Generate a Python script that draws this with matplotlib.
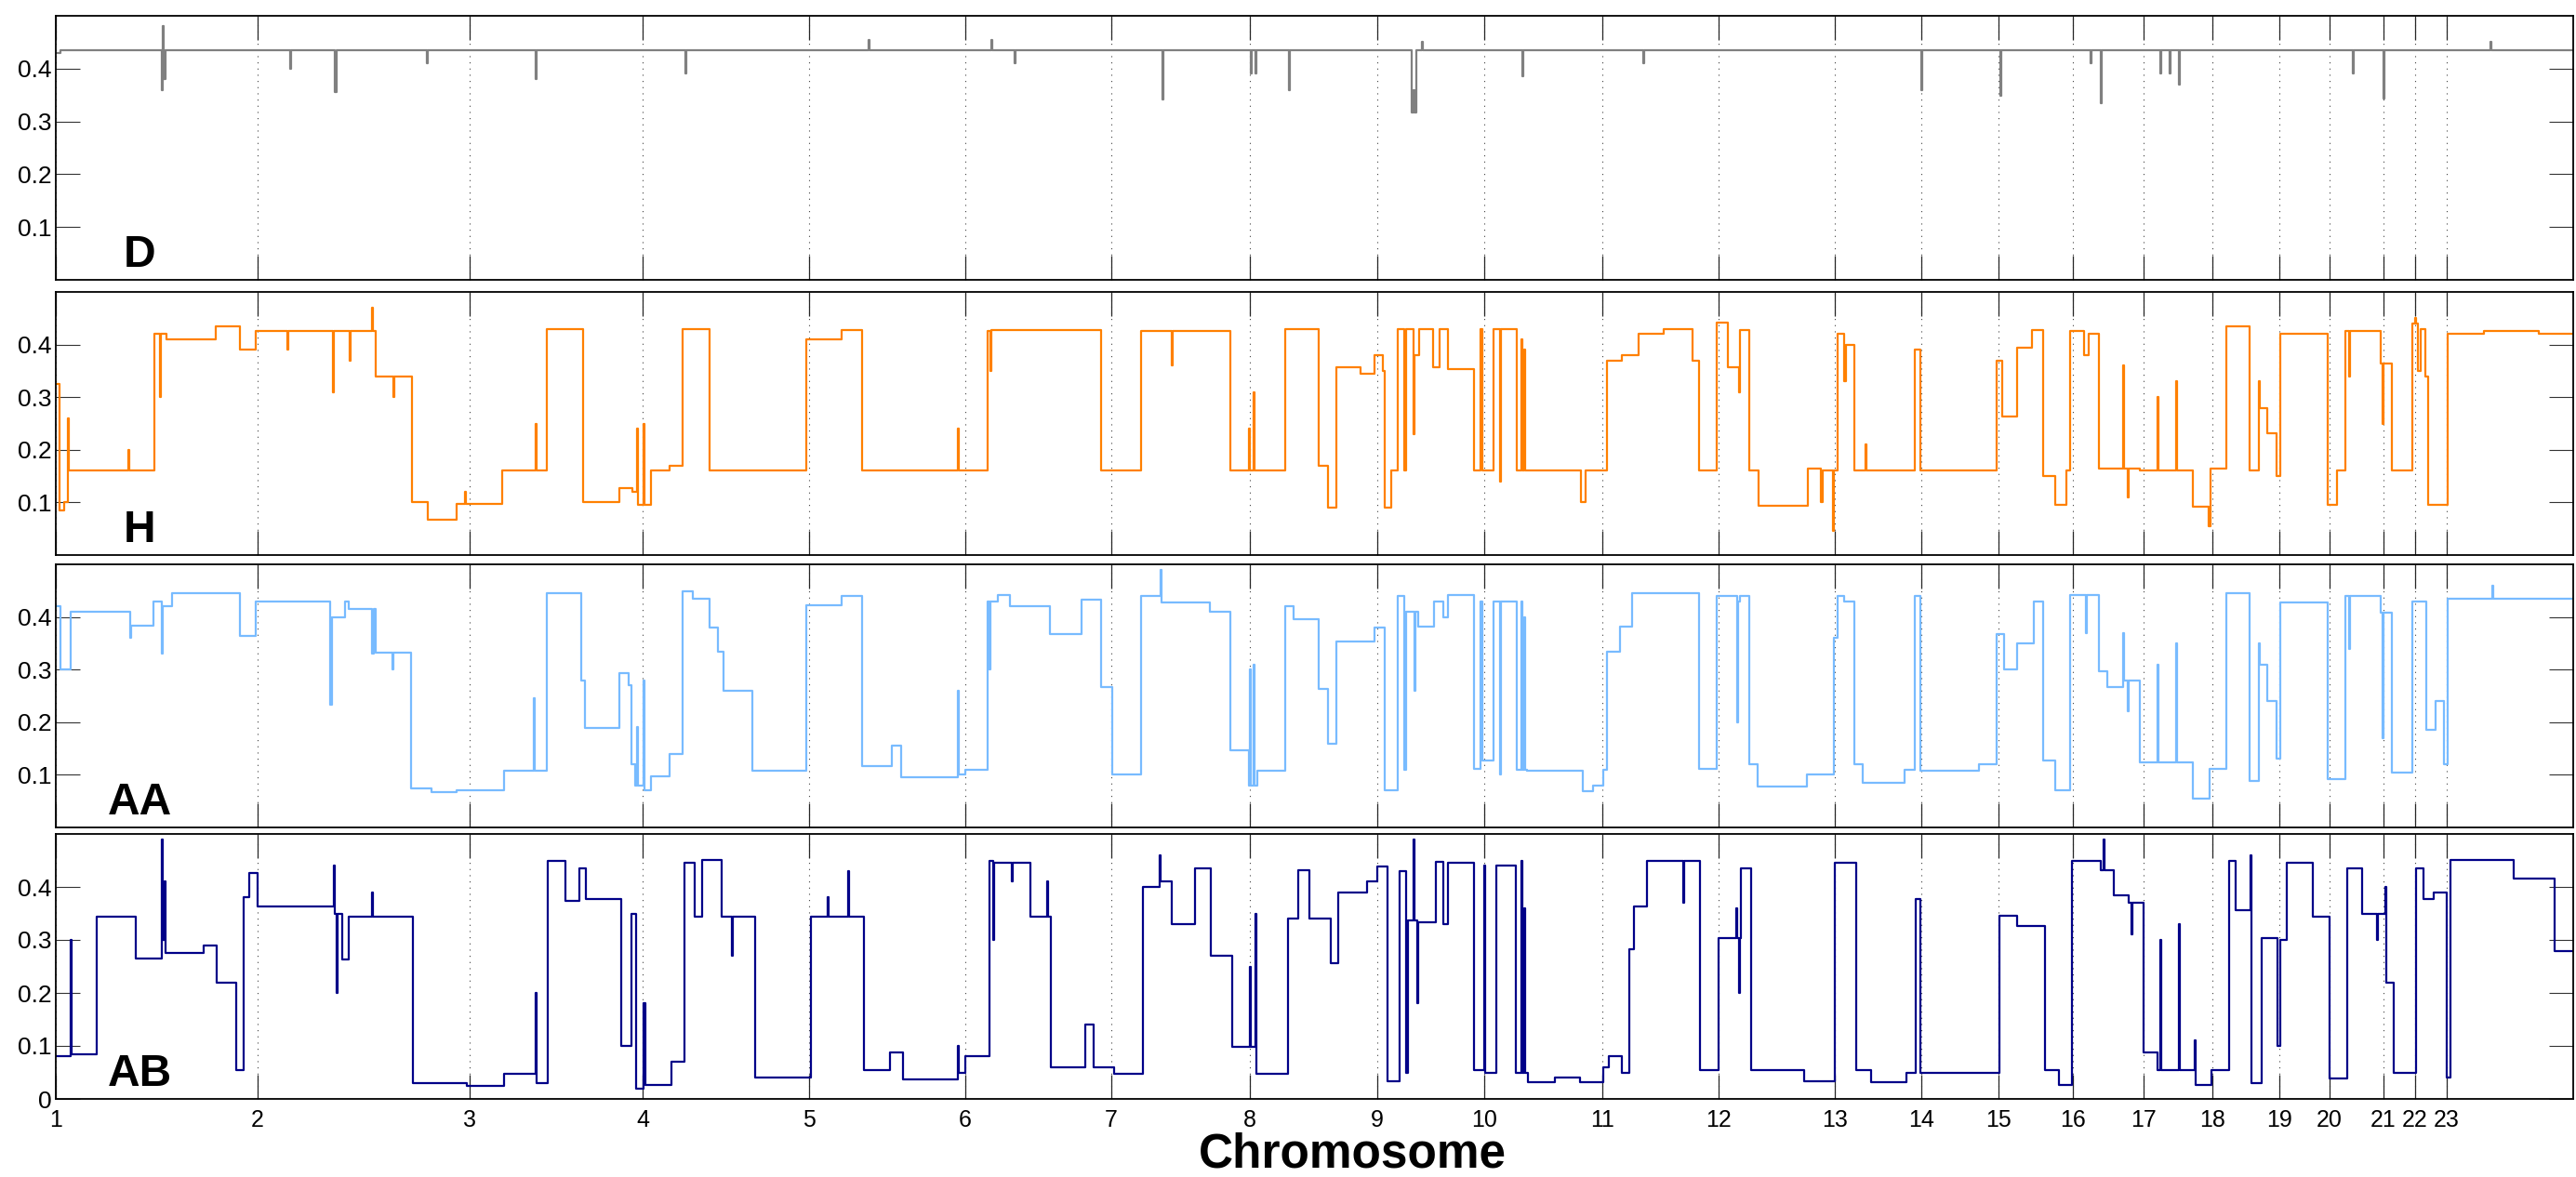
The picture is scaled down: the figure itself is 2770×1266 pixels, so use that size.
import matplotlib.pyplot as plt
import numpy as np

# chromosome start positions (SNP-ordered genome coordinate, arbitrary units)
CHROM_STARTS = [0, 217, 445, 631, 810, 978, 1135, 1284, 1421, 1536, 1663, 1788,
                1913, 2006, 2089, 2169, 2245, 2319, 2391, 2445, 2503, 2537, 2571]
CHROM_LABELS = [str(i) for i in range(1, 24)]
GENOME_END = 2707

# segment (start, value) pairs, drawn as steps
D_STEPS = [(0, 0.43), (5, 0.435), (114, 0.36), (115, 0.48), (116, 0.38), (118, 0.435),
           (252, 0.40), (253, 0.435), (300, 0.355), (302, 0.435), (399, 0.41), (400, 0.435),
           (516, 0.38), (517, 0.435), (677, 0.39), (678, 0.435), (874, 0.455), (875, 0.435),
           (1006, 0.455), (1007, 0.435), (1031, 0.41), (1032, 0.435), (1190, 0.341),
           (1191, 0.435), (1285, 0.39), (1286, 0.435), (1290, 0.39), (1291, 0.435),
           (1326, 0.36), (1327, 0.435), (1458, 0.317), (1460, 0.36), (1461, 0.317),
           (1463, 0.435), (1469, 0.45), (1470, 0.435), (1577, 0.385), (1578, 0.435),
           (1707, 0.41), (1708, 0.435), (2006, 0.36), (2007, 0.435), (2091, 0.348),
           (2092, 0.435), (2188, 0.41), (2189, 0.435), (2199, 0.334), (2200, 0.435),
           (2263, 0.39), (2264, 0.435), (2273, 0.39), (2274, 0.435), (2283, 0.37),
           (2284, 0.435), (2470, 0.39), (2471, 0.435), (2503, 0.344), (2504, 0.435),
           (2618, 0.45), (2619, 0.435)]

H_STEPS = [(0, 0.325), (4, 0.085), (9, 0.10), (13, 0.26), (14, 0.16), (78, 0.20), (79, 0.16),
           (106, 0.42), (112, 0.30), (113, 0.42), (119, 0.41), (172, 0.435), (198, 0.39),
           (215, 0.425), (249, 0.39), (250, 0.425), (298, 0.31), (299, 0.425), (316, 0.37),
           (317, 0.425), (340, 0.47), (341, 0.425), (344, 0.34), (363, 0.30), (364, 0.34),
           (383, 0.10), (400, 0.067), (431, 0.097), (440, 0.12), (441, 0.097), (480, 0.16),
           (516, 0.25), (517, 0.16), (528, 0.43), (567, 0.10), (606, 0.128), (620, 0.12),
           (625, 0.24), (626, 0.095), (632, 0.25), (633, 0.095), (640, 0.16), (660, 0.17),
           (674, 0.43), (703, 0.16), (807, 0.41), (845, 0.428), (867, 0.16), (970, 0.24),
           (971, 0.16), (1002, 0.425), (1005, 0.35), (1006, 0.428), (1124, 0.16),
           (1167, 0.425), (1200, 0.36), (1201, 0.425), (1263, 0.16), (1283, 0.24),
           (1284, 0.16), (1288, 0.31), (1289, 0.16), (1322, 0.43), (1358, 0.17), (1368, 0.09),
           (1377, 0.357), (1403, 0.345), (1418, 0.38), (1427, 0.35), (1429, 0.09),
           (1436, 0.16), (1443, 0.43), (1450, 0.16), (1452, 0.43), (1460, 0.23), (1461, 0.38),
           (1466, 0.43), (1481, 0.357), (1488, 0.43), (1497, 0.353), (1525, 0.16),
           (1532, 0.43), (1534, 0.16), (1546, 0.43), (1553, 0.14), (1554, 0.43), (1571, 0.16),
           (1576, 0.41), (1577, 0.16), (1579, 0.39), (1580, 0.16), (1640, 0.10), (1645, 0.16),
           (1668, 0.37), (1684, 0.38), (1702, 0.42), (1729, 0.43), (1760, 0.37), (1767, 0.16),
           (1786, 0.442), (1798, 0.357), (1810, 0.31), (1811, 0.428), (1821, 0.16),
           (1831, 0.094), (1884, 0.165), (1898, 0.10), (1900, 0.16), (1911, 0.046),
           (1912, 0.16), (1916, 0.42), (1923, 0.33), (1925, 0.40), (1934, 0.16), (1946, 0.21),
           (1947, 0.16), (1999, 0.39), (2005, 0.16), (2087, 0.37), (2093, 0.263),
           (2109, 0.394), (2125, 0.428), (2137, 0.15), (2150, 0.095), (2162, 0.16),
           (2166, 0.425), (2181, 0.38), (2186, 0.42), (2197, 0.165), (2223, 0.36),
           (2224, 0.165), (2228, 0.11), (2229, 0.165), (2241, 0.16), (2260, 0.30), (2261, 0.16),
           (2280, 0.33), (2281, 0.16), (2298, 0.092), (2315, 0.054), (2317, 0.165),
           (2334, 0.434), (2359, 0.16), (2369, 0.33), (2370, 0.28), (2378, 0.232), (2388, 0.15),
           (2392, 0.42), (2443, 0.095), (2453, 0.16), (2462, 0.425), (2466, 0.34),
           (2467, 0.425), (2500, 0.364), (2502, 0.25), (2503, 0.364), (2512, 0.16),
           (2534, 0.44), (2537, 0.45), (2538, 0.44), (2540, 0.35), (2543, 0.43), (2548, 0.34),
           (2551, 0.095), (2572, 0.42), (2611, 0.425), (2670, 0.42)]

AA_STEPS = [(0, 0.42), (5, 0.30), (16, 0.41), (80, 0.36), (81, 0.384), (105, 0.43),
            (114, 0.33), (115, 0.42), (125, 0.445), (198, 0.364), (215, 0.43), (295, 0.233),
            (297, 0.40), (311, 0.43), (315, 0.415), (340, 0.33), (342, 0.415), (344, 0.333),
            (362, 0.30), (363, 0.333), (382, 0.075), (404, 0.067), (431, 0.071), (482, 0.108),
            (514, 0.245), (515, 0.108), (528, 0.446), (565, 0.28), (569, 0.189), (606, 0.294),
            (616, 0.27), (619, 0.12), (623, 0.08), (625, 0.19), (626, 0.08), (632, 0.28),
            (633, 0.07), (640, 0.098), (660, 0.139), (674, 0.449), (685, 0.435), (703, 0.38),
            (712, 0.334), (718, 0.26), (749, 0.108), (807, 0.422), (845, 0.44), (867, 0.116),
            (899, 0.155), (909, 0.096), (970, 0.26), (971, 0.10), (978, 0.11), (1002, 0.43),
            (1004, 0.30), (1005, 0.43), (1013, 0.442), (1026, 0.42), (1069, 0.368),
            (1103, 0.432), (1124, 0.267), (1136, 0.10), (1167, 0.44), (1188, 0.49),
            (1189, 0.428), (1241, 0.41), (1263, 0.146), (1283, 0.08), (1284, 0.30), (1285, 0.08),
            (1288, 0.31), (1289, 0.08), (1292, 0.108), (1322, 0.42), (1331, 0.395),
            (1358, 0.263), (1368, 0.159), (1377, 0.354), (1418, 0.38), (1429, 0.071),
            (1443, 0.44), (1450, 0.11), (1452, 0.41), (1461, 0.26), (1462, 0.41), (1465, 0.381),
            (1482, 0.43), (1492, 0.40), (1497, 0.442), (1525, 0.112), (1532, 0.43),
            (1534, 0.128), (1546, 0.43), (1553, 0.10), (1554, 0.43), (1571, 0.11), (1576, 0.43),
            (1577, 0.11), (1579, 0.40), (1580, 0.11), (1582, 0.108), (1642, 0.069), (1653, 0.08),
            (1664, 0.11), (1668, 0.334), (1682, 0.381), (1695, 0.446), (1767, 0.112),
            (1786, 0.44), (1808, 0.20), (1809, 0.43), (1811, 0.44), (1821, 0.12), (1830, 0.078),
            (1883, 0.10), (1912, 0.36), (1916, 0.44), (1923, 0.43), (1934, 0.12), (1943, 0.085),
            (1988, 0.11), (1999, 0.44), (2005, 0.108), (2068, 0.12), (2087, 0.368), (2095, 0.30),
            (2109, 0.35), (2127, 0.43), (2137, 0.128), (2150, 0.07), (2166, 0.442), (2183, 0.37),
            (2184, 0.442), (2197, 0.296), (2206, 0.267), (2223, 0.37), (2224, 0.28),
            (2228, 0.22), (2229, 0.28), (2241, 0.123), (2260, 0.31), (2261, 0.123), (2280, 0.35),
            (2281, 0.123), (2298, 0.055), (2316, 0.112), (2334, 0.445), (2359, 0.089),
            (2369, 0.35), (2370, 0.31), (2378, 0.24), (2388, 0.13), (2392, 0.428), (2443, 0.092),
            (2462, 0.44), (2466, 0.34), (2467, 0.44), (2500, 0.408), (2502, 0.17), (2503, 0.408),
            (2512, 0.105), (2534, 0.43), (2549, 0.186), (2559, 0.24), (2568, 0.12),
            (2572, 0.435), (2620, 0.46), (2621, 0.435)]

AB_STEPS = [(0, 0.081), (16, 0.30), (17, 0.085), (44, 0.344), (86, 0.265), (114, 0.49),
            (115, 0.30), (117, 0.41), (118, 0.276), (159, 0.29), (173, 0.22), (194, 0.054),
            (202, 0.381), (208, 0.427), (217, 0.364), (299, 0.44), (300, 0.35), (302, 0.20),
            (303, 0.35), (308, 0.263), (315, 0.344), (340, 0.39), (341, 0.344), (384, 0.03),
            (442, 0.025), (482, 0.047), (516, 0.20), (517, 0.03), (529, 0.449), (548, 0.373),
            (563, 0.435), (570, 0.377), (608, 0.10), (619, 0.35), (624, 0.02), (632, 0.18),
            (634, 0.027), (662, 0.07), (676, 0.445), (687, 0.344), (695, 0.451), (716, 0.344),
            (727, 0.27), (728, 0.344), (752, 0.04), (812, 0.344), (830, 0.38), (831, 0.344),
            (852, 0.43), (853, 0.344), (869, 0.054), (897, 0.088), (911, 0.036), (970, 0.10),
            (971, 0.05), (978, 0.081), (1004, 0.45), (1008, 0.30), (1009, 0.445), (1028, 0.41),
            (1029, 0.445), (1048, 0.344), (1066, 0.41), (1067, 0.344), (1070, 0.06),
            (1107, 0.141), (1116, 0.06), (1138, 0.047), (1169, 0.40), (1187, 0.46), (1188, 0.41),
            (1200, 0.33), (1225, 0.435), (1242, 0.27), (1265, 0.098), (1284, 0.25), (1285, 0.098),
            (1290, 0.35), (1291, 0.047), (1325, 0.341), (1336, 0.431), (1348, 0.341),
            (1371, 0.256), (1379, 0.39), (1410, 0.41), (1421, 0.438), (1432, 0.034), (1445, 0.43),
            (1452, 0.05), (1454, 0.337), (1460, 0.49), (1461, 0.337), (1464, 0.18), (1465, 0.333),
            (1484, 0.447), (1492, 0.33), (1497, 0.445), (1525, 0.054), (1536, 0.44), (1537, 0.05),
            (1549, 0.44), (1570, 0.05), (1576, 0.45), (1577, 0.05), (1579, 0.36), (1580, 0.05),
            (1583, 0.031), (1612, 0.04), (1639, 0.031), (1664, 0.06), (1670, 0.08), (1684, 0.05),
            (1692, 0.283), (1697, 0.364), (1711, 0.449), (1750, 0.37), (1751, 0.449),
            (1768, 0.054), (1788, 0.303), (1807, 0.36), (1808, 0.303), (1810, 0.20),
            (1811, 0.303), (1812, 0.435), (1823, 0.054), (1880, 0.034), (1913, 0.445),
            (1936, 0.054), (1952, 0.031), (1990, 0.05), (2000, 0.377), (2005, 0.05),
            (2090, 0.346), (2109, 0.327), (2139, 0.054), (2154, 0.027), (2168, 0.449),
            (2199, 0.431), (2202, 0.49), (2203, 0.431), (2213, 0.384), (2229, 0.37), (2232, 0.31),
            (2233, 0.37), (2245, 0.088), (2260, 0.054), (2263, 0.30), (2264, 0.054), (2283, 0.33),
            (2284, 0.054), (2300, 0.11), (2301, 0.027), (2318, 0.054), (2337, 0.449),
            (2344, 0.357), (2360, 0.46), (2361, 0.03), (2372, 0.303), (2389, 0.10), (2392, 0.30),
            (2399, 0.445), (2427, 0.344), (2445, 0.038), (2464, 0.435), (2480, 0.35),
            (2496, 0.30), (2497, 0.35), (2505, 0.40), (2506, 0.22), (2514, 0.05), (2538, 0.435),
            (2546, 0.377), (2557, 0.39), (2571, 0.04), (2575, 0.451), (2643, 0.415),
            (2687, 0.279)]

PANELS = [
    ("D", "#808080", D_STEPS),
    ("H", "#ff8000", H_STEPS),
    ("AA", "#78bbff", AA_STEPS),
    ("AB", "#000088", AB_STEPS),
]

# axes boxes in figure pixels (top, bottom) for a 2770x1266 canvas
W, H = 2770, 1266
ROWS = [(17, 301), (314, 597), (607, 890), (897, 1182)]
LEFT, RIGHT = 60, 2767

fig = plt.figure(figsize=(W / 100, H / 100), dpi=100)

for i, (name, color, steps) in enumerate(PANELS):
    top, bot = ROWS[i]
    ax = fig.add_axes([LEFT / W, (H - bot) / H, (RIGHT - LEFT) / W, (bot - top) / H])
    x = [s[0] for s in steps] + [GENOME_END]
    y = [s[1] for s in steps] + [steps[-1][1]]
    ax.plot(x, y, drawstyle='steps-post', color=color, linewidth=1.6)

    ax.set_xlim(0, GENOME_END)
    ax.set_ylim(0, 0.5)
    last = i == len(PANELS) - 1
    ax.set_yticks([0, 0.1, 0.2, 0.3, 0.4] if last else [0.1, 0.2, 0.3, 0.4])
    ax.set_yticklabels(['0', '0.1', '0.2', '0.3', '0.4'] if last
                       else ['0.1', '0.2', '0.3', '0.4'])
    ax.set_xticks(CHROM_STARTS)
    if last:
        ax.set_xticklabels(CHROM_LABELS)
    else:
        ax.set_xticklabels([])

    ax.tick_params(axis='y', direction='in', length=19, width=0.8, color='0.2',
                   left=True, right=True, labelsize=19, pad=3,
                   labelfontfamily='Liberation Sans')
    ax.tick_params(axis='x', direction='in', length=19, width=0.9, color='0.15',
                   top=True, bottom=True, labelsize=18, pad=8,
                   labelfontfamily='Liberation Sans')
    ax.grid(axis='x', linestyle=(0, (1, 5)), color='0.25', linewidth=0.8)
    for sp in ax.spines.values():
        sp.set_linewidth(1.3)

    ax.text(90, 0.025, name, ha='center', va='baseline', fontsize=34.5,
            fontweight='bold', family='Liberation Sans', color='black')

fig.text(1454 / W, 0.0, "Chromosome", ha='center', va='bottom', fontsize=37,
         fontweight='bold', family='Liberation Sans')

fig.savefig("out.png", dpi=100)
